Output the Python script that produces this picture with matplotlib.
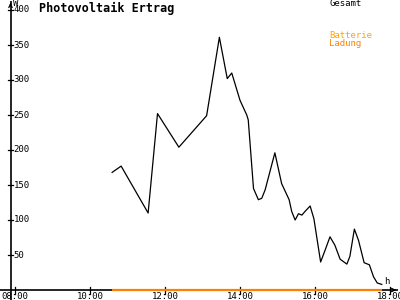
import matplotlib
matplotlib.use("Agg")
import matplotlib.pyplot as plt

# ---- data ----
hours = [10.59, 10.83, 11.55, 11.80, 12.37, 13.11, 13.45, 13.66, 13.78, 14.00, 14.18, 14.22,
         14.36, 14.49, 14.58, 14.67, 14.93, 15.11, 15.31, 15.38, 15.47, 15.56, 15.65, 15.73,
         15.87, 15.97, 16.15, 16.27, 16.40, 16.53, 16.67, 16.85, 16.93, 17.05, 17.16, 17.31,
         17.45, 17.56, 17.66, 17.78]
gesamt = [168, 177, 110, 252, 204, 249, 361, 302, 310, 271, 250, 243,
          145, 129, 131, 143, 196, 152, 129, 112, 100, 109, 107, 112,
          120, 102, 40, 57, 76, 64, 44, 37, 48, 87, 71, 39,
          36, 19, 10, 8]
lade_hours = [10.58, 17.78]
ladung = [0, 0]

xticks = [8, 10, 12, 14, 16, 18]
xlabels = ["08:00", "10:00", "12:00", "14:00", "16:00", "18:00"]
yticks = [50, 100, 150, 200, 250, 300, 350, 400]

# pixel mapping helpers (x: 37.5 px/hour, 08:00 at px 15; y: 0.7 px/W, 0 at px 290)
def hx(px):
    return 8 + (px - 15) / 37.5

def vy(py):
    return (290 - py) / 0.7

fig = plt.figure(figsize=(4, 3), dpi=100)
ax = fig.add_axes([0, 0, 1, 1])
ax.set_xlim(hx(0), hx(400))
ax.set_ylim(vy(300), vy(0))
ax.axis("off")

mono = "DejaVu Sans Mono"
yaxis_x = hx(10.5)

# axes lines
ax.plot([hx(0), hx(398)], [0, 0], color="black", lw=1.2, solid_capstyle="butt")
ax.plot([yaxis_x, yaxis_x], [vy(300), vy(1)], color="black", lw=1.2, solid_capstyle="butt")
# arrows
ax.annotate("", xy=(hx(399), 0), xytext=(hx(391), 0),
            arrowprops=dict(arrowstyle="->", lw=0.9, color="black", mutation_scale=6))
ax.annotate("", xy=(yaxis_x, vy(0)), xytext=(yaxis_x, vy(8)),
            arrowprops=dict(arrowstyle="->", lw=0.9, color="black", mutation_scale=6))

# series
ax.plot(lade_hours, ladung, color="#FF8000", lw=1.6, solid_capstyle="butt", zorder=3)
ax.plot(hours, gesamt, color="black", lw=0.9, zorder=4)

# y ticks
for v in yticks:
    ax.plot([hx(8), hx(13)], [v, v], color="black", lw=0.9)
    ax.text(hx(13.5), v, str(v), fontsize=6.5, family=mono, ha="left", va="center")

# x ticks
for h, lab in zip(xticks, xlabels):
    ax.plot([h, h], [vy(287), vy(294)], color="black", lw=0.9)
    ax.text(h, vy(296.5), lab, fontsize=6.5, family=mono, ha="center", va="center")

# texts
ax.text(hx(12.5), vy(4), "W", fontsize=6.5, family=mono, ha="left", va="center")
ax.text(hx(384), vy(281), "h", fontsize=6.5, family=mono, ha="left", va="center")
ax.text(hx(39), vy(8), "Photovoltaik Ertrag", fontsize=8.5, family=mono,
        fontweight="bold", ha="left", va="center")
ax.text(hx(329), vy(4), "Gesamt", fontsize=6.5, family=mono, ha="left", va="center")
ax.text(hx(329), vy(36), "Batterie", fontsize=6.5, family=mono, color="#FFA500",
        ha="left", va="center")
ax.text(hx(329), vy(44), "Ladung", fontsize=6.5, family=mono, color="#FF8000",
        ha="left", va="center")

fig.savefig("out.png", dpi=100)
